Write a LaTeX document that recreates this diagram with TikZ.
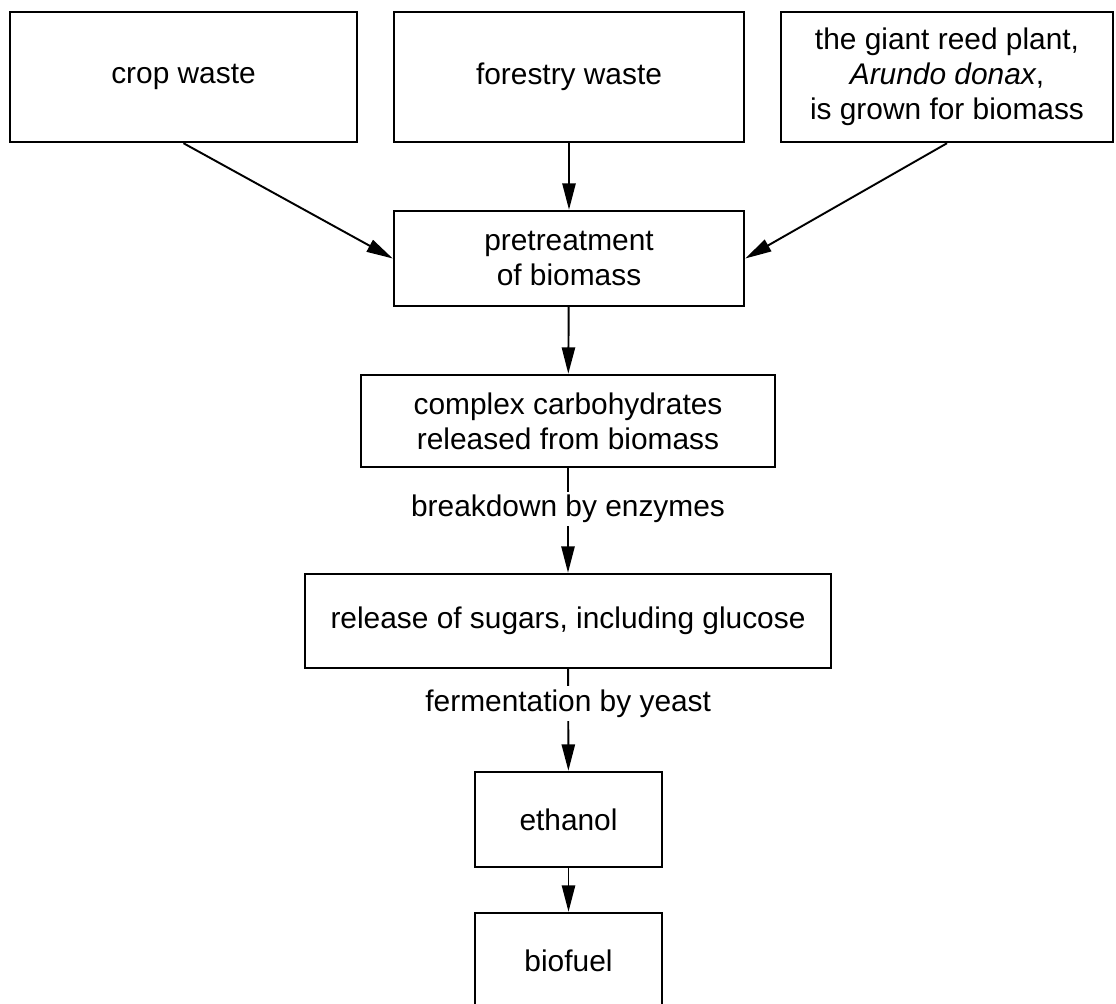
\documentclass[tikz,border=0pt]{standalone}
\usepackage{fontspec}
\setmainfont{Liberation Sans}
\usetikzlibrary{arrows.meta}
\begin{document}
\begin{tikzpicture}[
  box/.style={draw, line width=1.4pt, rectangle, inner sep=0pt, align=center, minimum height=1.9cm},
  flow/.style={draw, line width=1.1pt, -{Triangle[length=15pt, width=7.5pt]}},
  lbl/.style={fill=white, inner sep=2pt},
  font=\fontsize{17}{20}\selectfont]
\clip (0,0) rectangle (22.32,-20.06);
\node[box, minimum width=6.94cm, minimum height=2.6cm] (crop) at (3.67,-1.54) {crop waste};
\node[box, minimum width=7.0cm, minimum height=2.6cm] (forest) at (11.38,-1.54) {forestry waste};
\node[box, minimum width=6.64cm, minimum height=2.6cm] (reed) at (18.94,-1.54) {the giant reed plant,\\\textit{Arundo donax},\\is grown for biomass};
\node[box, minimum width=7.0cm] (pre) at (11.38,-5.17) {pretreatment\\of biomass};
\node[box, minimum width=8.28cm, minimum height=1.84cm] (carbs) at (11.36,-8.42) {complex carbohydrates\\released from biomass};
\node[box, minimum width=10.52cm, minimum height=1.88cm] (sugars) at (11.36,-12.42) {release of sugars, including glucose};
\node[box, minimum width=3.74cm] (ethanol) at (11.37,-16.39) {ethanol};
\node[box, minimum width=3.74cm] (biofuel) at (11.37,-19.21) {biofuel};
\path[flow] (crop.south) -- (pre.west);
\path[flow] (forest) -- (pre);
\path[flow] (reed.south) -- (pre.east);
\path[flow] (pre) -- (carbs);
\path[flow] (carbs) -- (sugars) node[lbl, pos=0.39] {breakdown by enzymes};
\path[flow] (sugars) -- (ethanol) node[lbl, pos=0.34] {fermentation by yeast};
\path[flow] (ethanol) -- (biofuel);
\end{tikzpicture}
\end{document}
